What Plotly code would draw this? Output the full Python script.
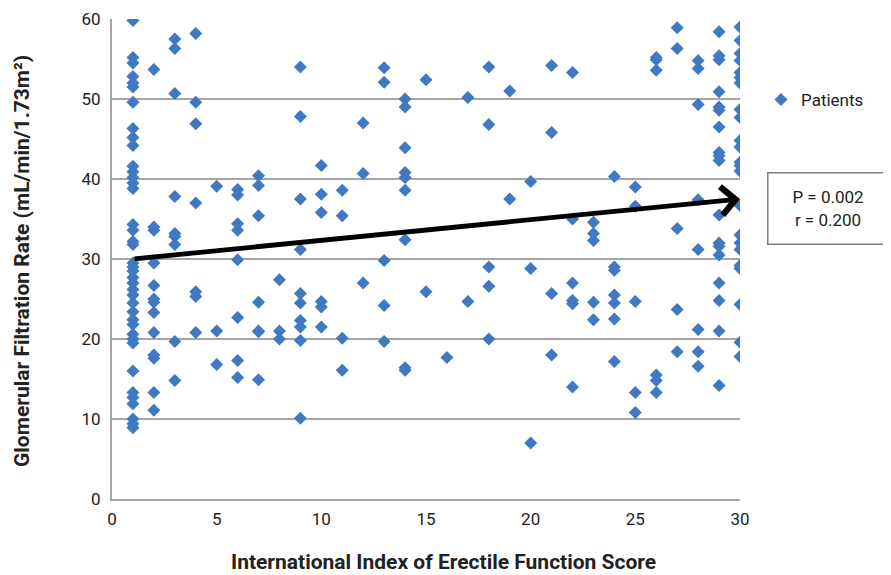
import plotly.graph_objects as go

# IIEF score groups (x) and GFR values (y)
gfr_by_score = {
    1: [59.8, 55.2, 54.5, 52.8, 52.0, 51.5, 49.6, 46.3, 45.2, 44.2, 41.6, 40.9, 40.2, 39.5, 38.8,
        34.3, 33.6, 32.2, 31.8, 29.5, 29.0, 28.5, 27.7, 27.0, 26.2, 25.5, 24.5, 23.4, 22.4, 21.8,
        20.6, 20.0, 19.5, 16.0, 13.3, 12.7, 11.9, 10.0, 9.4, 8.9],
    2: [53.7, 34.0, 33.6, 29.5, 26.7, 25.0, 24.6, 23.3, 20.8, 18.0, 17.6, 13.3, 11.1],
    3: [57.5, 56.3, 50.7, 37.8, 33.2, 32.8, 31.8, 19.7, 14.8],
    4: [58.2, 49.6, 46.9, 37.0, 25.9, 25.3, 20.8],
    5: [39.1, 21.0, 16.8],
    6: [38.7, 38.0, 34.4, 33.6, 29.9, 22.7, 17.3, 15.2],
    7: [40.4, 39.2, 35.4, 24.6, 21.0, 20.9, 14.9],
    8: [27.4, 21.0, 20.0],
    9: [54.0, 47.8, 37.5, 31.2, 25.7, 24.5, 22.3, 21.5, 19.8, 10.1],
    10: [41.7, 38.1, 35.8, 24.7, 24.0, 21.5],
    11: [38.6, 35.4, 20.1, 16.1],
    12: [47.0, 40.7, 27.0],
    13: [53.9, 52.1, 29.8, 24.2, 19.7],
    14: [50.0, 49.0, 43.9, 40.8, 40.2, 38.6, 32.4, 16.4, 16.1],
    15: [52.4, 25.9],
    16: [17.7],
    17: [50.2, 24.7],
    18: [54.0, 46.8, 29.0, 26.6, 20.0],
    19: [51.0, 37.5],
    20: [39.7, 28.8, 7.0],
    21: [54.2, 45.8, 25.7, 18.0],
    22: [53.3, 35.0, 27.0, 24.8, 24.4, 14.0],
    23: [34.6, 33.2, 32.3, 24.6, 22.4],
    24: [40.3, 29.0, 28.6, 25.5, 24.5, 22.5, 17.2],
    25: [39.0, 36.6, 24.7, 13.3, 10.8],
    26: [55.2, 54.9, 53.6, 15.5, 14.8, 13.3],
    27: [58.9, 56.3, 33.8, 23.7, 18.4],
    28: [54.8, 53.8, 49.3, 37.4, 31.2, 21.2, 18.4, 16.6],
    29: [58.4, 55.4, 54.9, 50.9, 49.0, 48.6, 46.5, 43.3, 42.9, 42.3, 35.5, 32.0, 31.6, 30.5,
         27.0, 24.8, 21.0, 14.2],
    30: [59.0, 57.3, 55.7, 54.8, 53.3, 52.7, 52.0, 48.7, 47.7, 44.8, 44.0, 42.1, 41.7, 41.0,
         36.7, 33.0, 32.0, 31.2, 29.2, 28.8, 24.3, 19.6, 17.8],
}

score = [s for s, vals in gfr_by_score.items() for _ in vals]
gfr = [v for vals in gfr_by_score.values() for v in vals]

trend_x = [1, 30]
trend_y = [30.0, 37.5]

x_ticks = [0, 5, 10, 15, 20, 25, 30]
y_ticks = [0, 10, 20, 30, 40, 50, 60]

stats_text = "P = 0.002<br>r = 0.200"
x_title = "International Index of Erectile Function Score"
y_title = "Glomerular Filtration Rate (mL/min/1.73m²)"

FONT = "Roboto, sans-serif"
BLUE = "#4079C2"

# the page adds an 8px body margin, so the figure is drawn 8px smaller and margins shifted
OFF = 8
PL, PR, PT, PB = 112 - OFF, 151, 19 - OFF, 76
W, H = 891 - OFF, 575 - OFF
PW, PH = W - PL - PR, H - PT - PB


def px(xp):
    return (xp - OFF - PL) / PW


def py(yp):
    return (H - PB - (yp - OFF)) / PH


fig = go.Figure()
fig.add_trace(go.Scatter(
    x=score, y=gfr, mode="markers", name="Patients",
    marker=dict(symbol="diamond", size=10, color=BLUE, line=dict(width=0)),
))

fig.add_annotation(
    x=trend_x[1], y=trend_y[1], ax=trend_x[0], ay=trend_y[0],
    xref="x", yref="y", axref="x", ayref="y",
    text="", showarrow=True, arrowhead=4, arrowsize=1.15, arrowwidth=4.8, arrowcolor="black",
)

fig.add_annotation(
    x=px(828), y=py(208), xref="paper", yref="paper",
    xanchor="center", yanchor="middle", text=stats_text, showarrow=False,
    font=dict(family=FONT, size=17, color="#222222"), align="center",
    bordercolor="#7f7f7f", borderwidth=1.5, bgcolor="white", width=117, height=68,
)

fig.add_annotation(
    x=px(443), y=py(562), xref="paper", yref="paper", text=x_title,
    showarrow=False, xanchor="center", yanchor="middle",
    font=dict(family=FONT, size=21, color="#222222", weight="bold"),
)
fig.add_annotation(
    x=px(22), y=py(261), xref="paper", yref="paper", text=y_title,
    showarrow=False, textangle=-90, xanchor="center", yanchor="middle",
    font=dict(family=FONT, size=21, color="#222222", weight="bold"),
)

fig.update_layout(
    width=W, height=H,
    margin=dict(l=PL, r=PR, t=PT, b=PB, autoexpand=False),
    paper_bgcolor="white", plot_bgcolor="white",
    font=dict(family=FONT, size=17, color="#222222"),
    showlegend=True,
    legend=dict(x=px(761), y=py(100), xanchor="left", yanchor="middle",
                font=dict(family=FONT, size=17, color="#222222"), itemwidth=30,
                bgcolor="rgba(0,0,0,0)"),
    xaxis=dict(range=[0, 30], tickvals=x_ticks, showgrid=False, zeroline=False, automargin=False,
               showline=True, linecolor="#a6a6a6", linewidth=2, ticks="", ticklen=0,
               ticklabelstandoff=4),
    yaxis=dict(range=[0, 60], tickvals=y_ticks, showgrid=True, gridcolor="#a6a6a6", gridwidth=2,
               zeroline=False, showline=True, linecolor="#a6a6a6", linewidth=2, ticks="",
               automargin=False, ticklabelstandoff=6),
)

fig.write_html("out.html")
